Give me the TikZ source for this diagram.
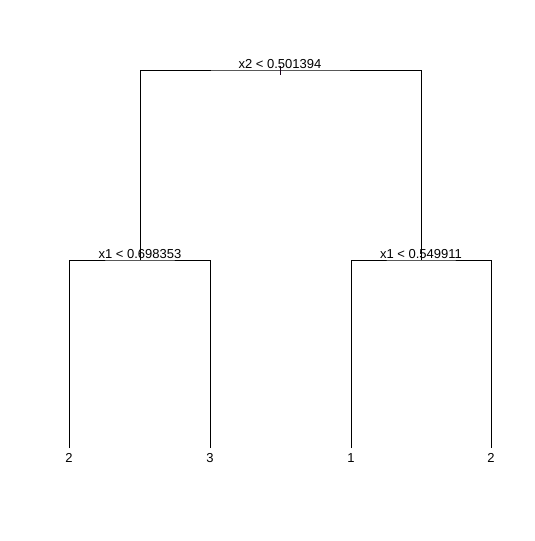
\documentclass[tikz,border=0pt]{standalone}
\usepackage{fontspec}
\setmainfont{Liberation Sans}
\begin{document}
\begin{tikzpicture}[x=1pt,y=-1pt,
  edge/.style={draw=black,line width=0.8pt},
  lbl/.style={inner sep=0pt,anchor=base,font=\fontsize{13}{13}\selectfont},
  pt/.style={inner sep=0pt,minimum size=0pt}]
\useasboundingbox (0,0) rectangle (535,541);
\fill[white] (0,0) rectangle (535,541);
% nodes (split points and leaves)
\coordinate (root) at (280,70);
\coordinate (rtop) at (280,66);
\coordinate (rbot) at (280,75);
\coordinate (L) at (140,260);
\coordinate (R) at (421,260);
\coordinate (LL) at (69,448);
\coordinate (LR) at (210,448);
\coordinate (RL) at (351,448);
\coordinate (RR) at (491,448);
% connectors
\draw[edge] (L) |- (root) -| (R);
\draw[edge] (LL) |- (L) -| (LR);
\draw[edge] (RL) |- (R) -| (RR);
\draw[edge,draw=black!80!violet] (rtop) -- (rbot);
% labels
\node[lbl] (t0) at (280,68) {x2 < 0.501394};
\node[lbl] (t1) at (140,258) {x1 < 0.698353};
\node[lbl] (t2) at (421,258) {x1 < 0.549911};
\node[lbl] (n1) at (69,462) {2};
\node[lbl] (n2) at (210,462) {3};
\node[lbl] (n3) at (351,462) {1};
\node[lbl] (n4) at (491,462) {2};
\end{tikzpicture}
\end{document}
